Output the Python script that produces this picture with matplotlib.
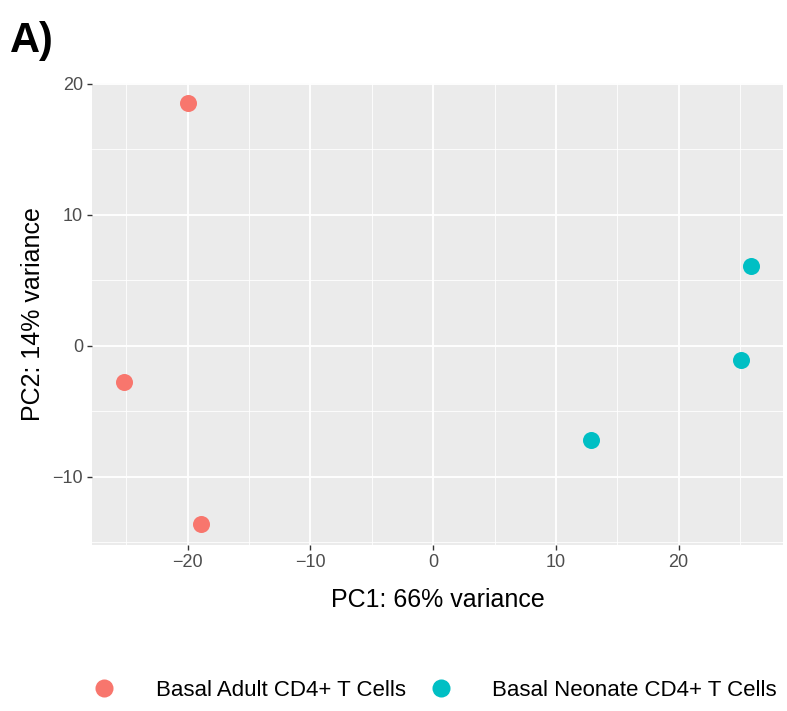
import matplotlib.pyplot as plt
from matplotlib.lines import Line2D
from matplotlib.ticker import MultipleLocator

grupos = ["Basal Adult CD4+ T Cells", "Basal Neonate CD4+ T Cells"]
colores = ["#F8766D", "#00BFC4"]
pc1_adult = [-20.0, -25.2, -18.9]
pc2_adult = [18.5, -2.8, -13.6]
pc1_neonate = [12.85, 25.1, 25.9]
pc2_neonate = [-7.2, -1.06, 6.1]

plt.rcParams['font.family'] = ['Liberation Sans', 'DejaVu Sans']

fig = plt.figure(figsize=(7.87, 7.11), dpi=100)
ax = fig.add_axes([92/787, 1 - 545/711, (783 - 92)/787, (545 - 83)/711])
ax.set_facecolor('#EBEBEB')

ax.scatter(pc1_adult, pc2_adult, s=150, color=colores[0], zorder=3, linewidths=0)
ax.scatter(pc1_neonate, pc2_neonate, s=150, color=colores[1], zorder=3, linewidths=0)

ax.set_xlim(-27.8, 28.5)
ax.set_ylim(-15.2, 20.05)
ax.xaxis.set_major_locator(MultipleLocator(10))
ax.yaxis.set_major_locator(MultipleLocator(10))
ax.xaxis.set_minor_locator(MultipleLocator(5))
ax.yaxis.set_minor_locator(MultipleLocator(5))
ax.grid(True, which='major', color='white', linewidth=1.3)
ax.grid(True, which='minor', color='white', linewidth=0.6)
ax.set_axisbelow(True)
for s in ax.spines.values():
    s.set_visible(False)
ax.tick_params(which='major', length=3.5, width=1, color='#333333',
               labelsize=13, labelcolor='#4D4D4D', pad=3)
ax.tick_params(which='minor', length=0)
fmt = plt.FuncFormatter(lambda v, p: f"{int(v)}".replace('-', '\u2212'))
ax.xaxis.set_major_formatter(fmt)
ax.yaxis.set_major_formatter(fmt)

ax.set_xlabel('PC1: 66% variance', fontsize=18, labelpad=12)
ax.set_ylabel('PC2: 14% variance', fontsize=18, labelpad=5)

fig.text(10/787, 1 - 52/711, 'A)', fontsize=30, fontweight='bold')

handles = [Line2D([], [], marker='o', linestyle='', markersize=13, color=c, markeredgewidth=0) for c in colores]
fig.legend(handles, grupos, loc='center', bbox_to_anchor=(434/787, 1 - 690/711), ncol=2, frameon=False,
           fontsize=16, handletextpad=1.7, columnspacing=1.0, handlelength=1.2)

fig.savefig('out.png', dpi=100)
